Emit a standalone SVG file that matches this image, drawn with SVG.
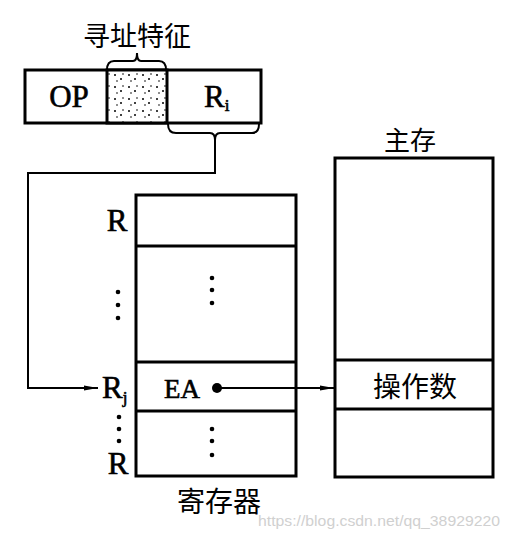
<svg xmlns="http://www.w3.org/2000/svg" width="509" height="536" viewBox="0 0 509 536">
<style>
.box{fill:#fff;stroke:#000;stroke-width:3}
.div{stroke:#000;stroke-width:3;fill:none}
.ln{stroke:#000;stroke-width:2;fill:none}
.lat{font-family:"Liberation Serif",serif;fill:#000;stroke:#000;stroke-width:0.6}
.cjk{font-family:"Noto Sans CJK SC",sans-serif;fill:#000}
.dot{fill:#000}
</style>
<defs>
<pattern id="speckle" width="14" height="12" patternUnits="userSpaceOnUse">
<rect width="14" height="12" fill="#fff"/>
<circle cx="3" cy="3" r="1" fill="#000"/>
<circle cx="9" cy="7" r="1" fill="#000"/>
<circle cx="5" cy="9" r="0.8" fill="#000"/>
<circle cx="11" cy="2" r="0.8" fill="#000"/>
</pattern>
<marker id="arr" viewBox="0 0 14 8" refX="14" refY="4" markerWidth="14" markerHeight="8" markerUnits="userSpaceOnUse" orient="auto">
<path d="M0,1.5 L14,4 L0,6.5 Z" fill="#000"/>
</marker>
</defs>
<rect width="509" height="536" fill="#fff"/>

<g id="instruction">
<rect class="box" x="25" y="70" width="236" height="53"/>
<rect x="107" y="70" width="60" height="53" fill="url(#speckle)" stroke="#000" stroke-width="3"/>
<text class="lat" x="69" y="107" font-size="31" text-anchor="middle">OP</text>
<text class="lat" x="204" y="107" font-size="31">R<tspan font-size="17" dy="4">i</tspan></text>
<text class="cjk" x="137" y="46" font-size="27" text-anchor="middle">寻址特征</text>
<path class="ln" d="M107,70 Q107,61 114,61 L133,61 Q137,61 137,53 Q137,61 141,61 L159,61 Q166,61 166,70"/>
<path class="ln" d="M168,124 Q168,133 176,133 L210,133 Q215,133 215,140 Q215,133 220,133 L252,133 Q259,133 259,124"/>
</g>

<g id="registers">
<rect class="box" x="136" y="195" width="160" height="281"/>
<line class="div" x1="136" y1="246" x2="296" y2="246"/>
<line class="div" x1="136" y1="362" x2="296" y2="362"/>
<line class="div" x1="136" y1="411" x2="296" y2="411"/>
<text class="lat" x="117" y="231" font-size="31" text-anchor="middle">R</text>
<circle class="dot" cx="118" cy="292" r="2.3"/>
<circle class="dot" cx="118" cy="305" r="2.3"/>
<circle class="dot" cx="118" cy="318" r="2.3"/>
<circle class="dot" cx="212" cy="278" r="2.3"/>
<circle class="dot" cx="212" cy="290" r="2.3"/>
<circle class="dot" cx="212" cy="303" r="2.3"/>
<text class="lat" x="102" y="398" font-size="31">R<tspan font-size="17" dy="5">j</tspan></text>
<circle class="dot" cx="119" cy="417" r="2.3"/>
<circle class="dot" cx="119" cy="429" r="2.3"/>
<circle class="dot" cx="119" cy="441" r="2.3"/>
<text class="lat" x="118" y="474" font-size="31" text-anchor="middle">R</text>
<circle class="dot" cx="212" cy="429" r="2.3"/>
<circle class="dot" cx="212" cy="441" r="2.3"/>
<circle class="dot" cx="212" cy="455" r="2.3"/>
<text class="lat" x="164" y="398" font-size="27">EA</text>
<circle class="dot" cx="217" cy="388" r="5"/>
<text class="cjk" x="219" y="512" font-size="28" text-anchor="middle">寄存器</text>
</g>

<g id="memory">
<rect class="box" x="335" y="158" width="158" height="319"/>
<line class="div" x1="335" y1="360" x2="493" y2="360"/>
<line class="div" x1="335" y1="409" x2="493" y2="409"/>
<text class="cjk" x="415" y="397" font-size="28" text-anchor="middle">操作数</text>
<text class="cjk" x="410" y="150" font-size="26" text-anchor="middle">主存</text>
</g>

<g id="connectors">
<path class="ln" d="M215,140 L215,173 L28,173 L28,388 L98,388" marker-end="url(#arr)"/>
<line class="ln" x1="217" y1="388" x2="334" y2="388" marker-end="url(#arr)"/>
</g>

<text x="258" y="526" font-family="Liberation Sans, sans-serif" font-size="15.5" fill="#d0d0d0" textLength="242" lengthAdjust="spacingAndGlyphs">https://blog.csdn.net/qq_38929220</text>
</svg>
